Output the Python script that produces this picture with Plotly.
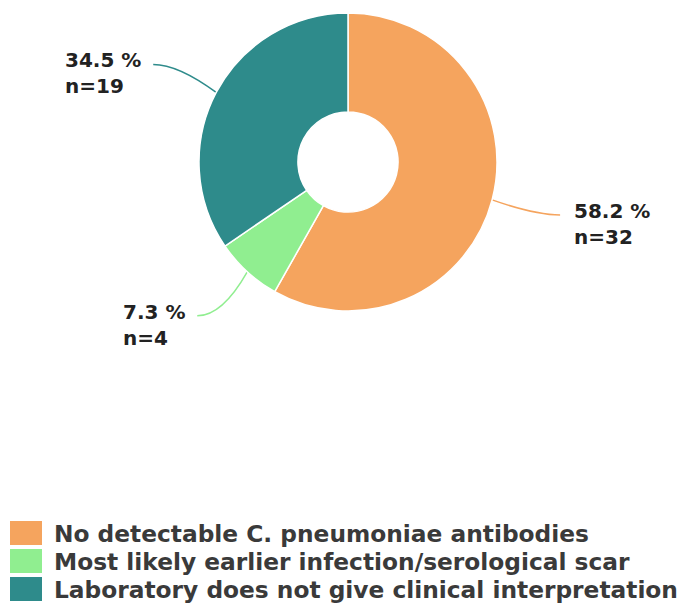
import math
import plotly.graph_objects as go

# data
categories = [
    "No detectable C. pneumoniae antibodies",
    "Most likely earlier infection/serological scar",
    "Laboratory does not give clinical interpretation",
]
counts = [32, 4, 19]
percents = [58.2, 7.3, 34.5]
colors = ["#F5A45E", "#90EE90", "#2E8B8B"]

W, H = 690, 609
OFF = 8  # page body margin in the browser
# pie geometry in pixels (styling)
cx, cy, R = 348 - OFF, 162 - OFF, 149
# where each leader line ends, relative to slice edge (styling)
label_offsets = [(68, 15), (-50, 44), (-63, -28)]

FONT = "DejaVu Sans"

fig = go.Figure()

fig.add_trace(go.Pie(
    labels=categories,
    values=counts,
    sort=False,
    direction="clockwise",
    rotation=0,
    hole=0.336,
    marker=dict(colors=colors, line=dict(color="white", width=1.5)),
    textinfo="none",
    hoverinfo="label+value+percent",
    showlegend=False,
    domain=dict(x=[0, 2 * cx / W], y=[(H - (cy + R)) / H, (H - (cy - R)) / H]),
))

# invisible pixel-space axes for leader lines, labels and legend
fig.add_trace(go.Scatter(x=[0, W], y=[0, H], mode="markers",
                         marker=dict(opacity=0), hoverinfo="skip", showlegend=False))

total = sum(counts)
cum = 0
for i, c in enumerate(counts):
    mid = (cum + c / 2) / total * 2 * math.pi
    cum += c
    ex = cx + R * math.sin(mid)
    ey = cy - R * math.cos(mid)
    dx, dy = label_offsets[i]
    lx, ly = ex + dx, ey + dy
    side = 1 if dx > 0 else -1
    qx, qy = lx - side * 25, ly
    fig.add_shape(type="path", xref="x", yref="y",
                  path=f"M {ex},{ey} Q {qx},{qy} {lx},{ly}",
                  line=dict(color=colors[i], width=1.5), layer="below")
    fig.add_annotation(
        x=lx + (12 if side > 0 else -10), y=ly + 9, xref="x", yref="y",
        text=f"<b>{percents[i]} %<br>n={c}</b>",
        showarrow=False, align="left",
        xanchor="left" if side > 0 else "right", yanchor="middle",
        font=dict(family=FONT, size=20, color="#222222"),
    )

# legend
row_y = [533 - OFF, 561 - OFF, 589 - OFF]
for i, name in enumerate(categories):
    fig.add_shape(type="rect", xref="x", yref="y",
                  x0=10 - OFF, x1=42 - OFF, y0=row_y[i] - 12, y1=row_y[i] + 12,
                  fillcolor=colors[i], line=dict(width=0))
    fig.add_annotation(
        x=52 - OFF, y=row_y[i], xref="x", yref="y",
        text=f"<b>{name}</b>", showarrow=False,
        xanchor="left", yanchor="middle",
        font=dict(family=FONT, size=23.3, color="#3a3a3a"),
    )

fig.update_xaxes(range=[0, W], visible=False, fixedrange=True)
fig.update_yaxes(range=[H, 0], visible=False, fixedrange=True)

fig.update_layout(
    width=W, height=H,
    margin=dict(l=0, r=0, t=0, b=0),
    paper_bgcolor="white", plot_bgcolor="rgba(0,0,0,0)",
    font=dict(family=FONT),
)

fig.write_html("out.html")
